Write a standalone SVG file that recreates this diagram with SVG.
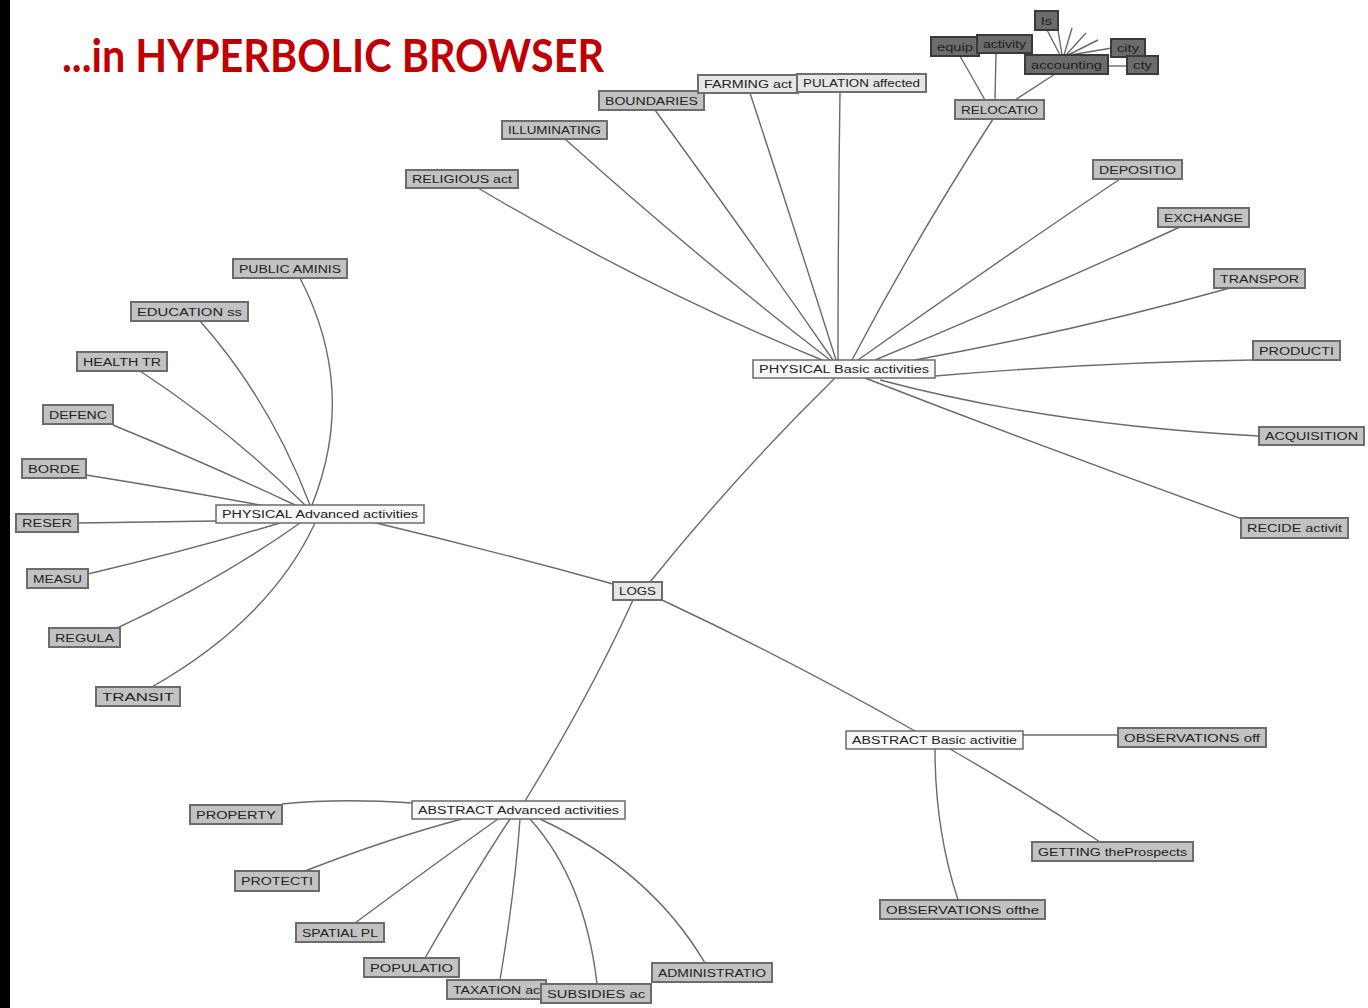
<svg xmlns="http://www.w3.org/2000/svg" width="1368" height="1008" viewBox="0 0 1368 1008">
  <style>
    .title { font-family: "Lato", "Open Sans", sans-serif; font-weight: 700; font-size: 46px; fill: #c00000; }
    .edges path { fill: none; stroke: #6a6a6a; stroke-width: 1.4; }
    .hub rect { fill: #f7f7f7; stroke: #6b6b6b; stroke-width: 1.5; }
    .leaf rect { fill: #c2c2c2; stroke: #6c6c6c; stroke-width: 2; }
    .dark rect { fill: #6c6c6c; stroke: #3a3a3a; stroke-width: 2; }
    .lite rect { fill: #e6e6e6; stroke: #6e6e6e; stroke-width: 2; }
    text.lbl { font-family: "Liberation Sans", Arial, sans-serif; font-size: 10px; fill: #222222; text-anchor: middle; }
    .dark text.lbl { fill: #1c1c1c; }
  </style>

  <rect x="0" y="0" width="1368" height="1008" fill="#ffffff"/>
  <rect x="0" y="0" width="10" height="1008" fill="#000000"/>

  <text class="title" x="62" y="72" textLength="542" lengthAdjust="spacingAndGlyphs">...in HYPERBOLIC BROWSER</text>

  <!-- connectors (hyperbolic geodesics drawn as gentle curves) -->
  <g id="connectors" class="edges">
    <!-- root -->
    <path d="M650,582 Q738,473 835,378"/>
    <path d="M613,584 Q490,550 368,521"/>
    <path d="M662,600 Q790,660 915,731"/>
    <path d="M633,600 Q590,695 525,801"/>
    <!-- PHYSICAL Basic -->
    <path d="M478,188 Q650,290 822,360"/>
    <path d="M565,139 Q700,260 830,360"/>
    <path d="M655,110 Q750,240 833,360"/>
    <path d="M750,93 Q795,230 836,360"/>
    <path d="M840,92 Q838,230 838,360"/>
    <path d="M993,119 Q915,240 852,360"/>
    <path d="M1120,179 Q985,270 858,360"/>
    <path d="M1180,227 Q1020,300 875,360"/>
    <path d="M1230,288 Q1080,330 915,360"/>
    <path d="M1253,360 Q1100,362 935,376"/>
    <path d="M1259,436 Q1050,425 880,380"/>
    <path d="M1245,520 Q1050,450 865,378"/>
    <!-- RELOCATIO branch -->
    <path d="M985,100 L960,56"/>
    <path d="M995,100 L996,53"/>
    <path d="M1015,100 L1055,74"/>
    <path d="M1060,55 L1047,30"/>
    <path d="M1062,55 L1058,30"/>
    <path d="M1064,55 L1072,28"/>
    <path d="M1066,55 L1086,33"/>
    <path d="M1068,55 L1098,40"/>
    <path d="M1070,55 L1112,48"/>
    <path d="M1108,66 L1127,66"/>
    <!-- PHYSICAL Advanced -->
    <path d="M300,278 Q358,390 312,505"/>
    <path d="M200,321 Q270,400 310,505"/>
    <path d="M140,371 Q230,430 305,505"/>
    <path d="M113,425 Q210,465 295,505"/>
    <path d="M86,475 Q180,490 265,506"/>
    <path d="M78,523 L216,521"/>
    <path d="M88,574 Q190,550 280,523"/>
    <path d="M115,629 Q220,580 300,523"/>
    <path d="M150,688 Q270,620 315,523"/>
    <!-- ABSTRACT Basic -->
    <path d="M1023,735 L1118,735"/>
    <path d="M950,749 Q1030,795 1100,842"/>
    <path d="M935,749 Q935,830 958,900"/>
    <!-- ABSTRACT Advanced -->
    <path d="M282,804 Q340,798 412,803"/>
    <path d="M305,871 Q390,838 462,819"/>
    <path d="M355,923 Q440,860 498,819"/>
    <path d="M425,958 Q470,880 510,819"/>
    <path d="M500,980 Q515,890 520,819"/>
    <path d="M597,984 Q585,880 530,819"/>
    <path d="M705,963 Q650,870 540,819"/>
  </g>

  <!-- hubs -->
  <g id="logs" class="lite"><rect x="613" y="582" width="49" height="18"/><text class="lbl" x="637.5" y="595" textLength="37" lengthAdjust="spacingAndGlyphs">LOGS</text></g>
  <g id="physical-basic" class="hub"><rect x="753" y="360" width="182" height="18"/><text class="lbl" x="844" y="373" textLength="170" lengthAdjust="spacingAndGlyphs">PHYSICAL Basic activities</text></g>
  <g id="physical-advanced" class="hub"><rect x="216" y="505" width="208" height="18"/><text class="lbl" x="320" y="518" textLength="196" lengthAdjust="spacingAndGlyphs">PHYSICAL Advanced activities</text></g>
  <g id="abstract-basic" class="hub"><rect x="846" y="731" width="177" height="18"/><text class="lbl" x="934.5" y="744" textLength="165" lengthAdjust="spacingAndGlyphs">ABSTRACT Basic activitie</text></g>
  <g id="abstract-advanced" class="hub"><rect x="412" y="801" width="213" height="18"/><text class="lbl" x="518.5" y="814" textLength="201" lengthAdjust="spacingAndGlyphs">ABSTRACT Advanced activities</text></g>

  <!-- PHYSICAL Basic leaves -->
  <g id="religious" class="leaf"><rect x="406" y="170" width="112" height="18"/><text class="lbl" x="462" y="183" textLength="100" lengthAdjust="spacingAndGlyphs">RELIGIOUS act</text></g>
  <g id="illuminating" class="leaf"><rect x="502" y="121" width="105" height="18"/><text class="lbl" x="554.5" y="134" textLength="93" lengthAdjust="spacingAndGlyphs">ILLUMINATING</text></g>
  <g id="boundaries" class="leaf"><rect x="599" y="91" width="105" height="19"/><text class="lbl" x="651.5" y="104.5" textLength="93" lengthAdjust="spacingAndGlyphs">BOUNDARIES</text></g>
  <g id="farming" class="lite"><rect x="698" y="75" width="100" height="18"/><text class="lbl" x="748" y="88" textLength="88" lengthAdjust="spacingAndGlyphs">FARMING act</text></g>
  <g id="population-affected" class="lite"><rect x="797" y="74" width="129" height="18"/><text class="lbl" x="861.5" y="87" textLength="117" lengthAdjust="spacingAndGlyphs">PULATION affected</text></g>
  <g id="relocatio" class="leaf"><rect x="955" y="100" width="89" height="19"/><text class="lbl" x="999.5" y="113.5" textLength="77" lengthAdjust="spacingAndGlyphs">RELOCATIO</text></g>
  <g id="depositio" class="leaf"><rect x="1093" y="160" width="89" height="19"/><text class="lbl" x="1137.5" y="173.5" textLength="77" lengthAdjust="spacingAndGlyphs">DEPOSITIO</text></g>
  <g id="exchange" class="leaf"><rect x="1158" y="208" width="91" height="19"/><text class="lbl" x="1203.5" y="221.5" textLength="79" lengthAdjust="spacingAndGlyphs">EXCHANGE</text></g>
  <g id="transpor" class="leaf"><rect x="1214" y="269" width="91" height="19"/><text class="lbl" x="1259.5" y="282.5" textLength="79" lengthAdjust="spacingAndGlyphs">TRANSPOR</text></g>
  <g id="producti" class="leaf"><rect x="1253" y="341" width="87" height="19"/><text class="lbl" x="1296.5" y="354.5" textLength="75" lengthAdjust="spacingAndGlyphs">PRODUCTI</text></g>
  <g id="acquisition" class="leaf"><rect x="1259" y="427" width="105" height="18"/><text class="lbl" x="1311.5" y="440" textLength="93" lengthAdjust="spacingAndGlyphs">ACQUISITION</text></g>
  <g id="recide" class="leaf"><rect x="1241" y="518" width="107" height="20"/><text class="lbl" x="1294.5" y="532" textLength="95" lengthAdjust="spacingAndGlyphs">RECIDE activit</text></g>

  <!-- RELOCATIO sub-branch -->
  <g id="equip" class="dark"><rect x="931" y="37" width="48" height="19"/><text class="lbl" x="955" y="50.5" textLength="36" lengthAdjust="spacingAndGlyphs">equip</text></g>
  <g id="activity" class="dark"><rect x="977" y="35" width="55" height="18"/><text class="lbl" x="1004.5" y="48" textLength="43" lengthAdjust="spacingAndGlyphs">activity</text></g>
  <g id="ls" class="dark"><rect x="1035" y="11" width="23" height="19"/><text class="lbl" x="1046.5" y="24.5" textLength="11" lengthAdjust="spacingAndGlyphs">ls</text></g>
  <g id="accounting" class="dark"><rect x="1025" y="55" width="83" height="19"/><text class="lbl" x="1066.5" y="68.5" textLength="71" lengthAdjust="spacingAndGlyphs">accounting</text></g>
  <g id="city" class="dark"><rect x="1111" y="39" width="34" height="18"/><text class="lbl" x="1128" y="52" textLength="22" lengthAdjust="spacingAndGlyphs">city</text></g>
  <g id="cty" class="dark"><rect x="1127" y="56" width="31" height="18"/><text class="lbl" x="1142.5" y="69" textLength="19" lengthAdjust="spacingAndGlyphs">cty</text></g>

  <!-- PHYSICAL Advanced leaves -->
  <g id="public-aminis" class="leaf"><rect x="233" y="259" width="114" height="19"/><text class="lbl" x="290" y="272.5" textLength="102" lengthAdjust="spacingAndGlyphs">PUBLIC AMINIS</text></g>
  <g id="education" class="leaf"><rect x="131" y="302" width="117" height="19"/><text class="lbl" x="189.5" y="315.5" textLength="105" lengthAdjust="spacingAndGlyphs">EDUCATION ss</text></g>
  <g id="health" class="leaf"><rect x="77" y="352" width="90" height="19"/><text class="lbl" x="122" y="365.5" textLength="78" lengthAdjust="spacingAndGlyphs">HEALTH TR</text></g>
  <g id="defenc" class="leaf"><rect x="43" y="405" width="70" height="19"/><text class="lbl" x="78" y="418.5" textLength="58" lengthAdjust="spacingAndGlyphs">DEFENC</text></g>
  <g id="borde" class="leaf"><rect x="22" y="459" width="64" height="19"/><text class="lbl" x="54" y="472.5" textLength="52" lengthAdjust="spacingAndGlyphs">BORDE</text></g>
  <g id="reser" class="leaf"><rect x="16" y="514" width="62" height="18"/><text class="lbl" x="47" y="527" textLength="50" lengthAdjust="spacingAndGlyphs">RESER</text></g>
  <g id="measu" class="leaf"><rect x="27" y="569" width="61" height="19"/><text class="lbl" x="57.5" y="582.5" textLength="49" lengthAdjust="spacingAndGlyphs">MEASU</text></g>
  <g id="regula" class="leaf"><rect x="49" y="628" width="71" height="19"/><text class="lbl" x="84.5" y="641.5" textLength="59" lengthAdjust="spacingAndGlyphs">REGULA</text></g>
  <g id="transit" class="leaf"><rect x="96" y="687" width="84" height="19"/><text class="lbl" x="138" y="700.5" textLength="72" lengthAdjust="spacingAndGlyphs">TRANSIT</text></g>

  <!-- ABSTRACT Basic leaves -->
  <g id="observations-off" class="leaf"><rect x="1118" y="728" width="148" height="19"/><text class="lbl" x="1192" y="741.5" textLength="136" lengthAdjust="spacingAndGlyphs">OBSERVATIONS off</text></g>
  <g id="getting" class="leaf"><rect x="1032" y="842" width="161" height="19"/><text class="lbl" x="1112.5" y="855.5" textLength="149" lengthAdjust="spacingAndGlyphs">GETTING theProspects</text></g>
  <g id="observations-ofthe" class="leaf"><rect x="880" y="900" width="165" height="19"/><text class="lbl" x="962.5" y="913.5" textLength="153" lengthAdjust="spacingAndGlyphs">OBSERVATIONS ofthe</text></g>

  <!-- ABSTRACT Advanced leaves -->
  <g id="property" class="leaf"><rect x="190" y="805" width="92" height="19"/><text class="lbl" x="236" y="818.5" textLength="80" lengthAdjust="spacingAndGlyphs">PROPERTY</text></g>
  <g id="protecti" class="leaf"><rect x="235" y="871" width="84" height="20"/><text class="lbl" x="277" y="885" textLength="72" lengthAdjust="spacingAndGlyphs">PROTECTI</text></g>
  <g id="spatial" class="leaf"><rect x="296" y="923" width="88" height="19"/><text class="lbl" x="340" y="936.5" textLength="76" lengthAdjust="spacingAndGlyphs">SPATIAL PL</text></g>
  <g id="populatio" class="leaf"><rect x="364" y="958" width="95" height="19"/><text class="lbl" x="411.5" y="971.5" textLength="83" lengthAdjust="spacingAndGlyphs">POPULATIO</text></g>
  <g id="taxation" class="leaf"><rect x="447" y="980" width="99" height="19"/><text class="lbl" x="496.5" y="993.5" textLength="87" lengthAdjust="spacingAndGlyphs">TAXATION ac</text></g>
  <g id="subsidies" class="leaf"><rect x="541" y="984" width="110" height="19"/><text class="lbl" x="596" y="997.5" textLength="98" lengthAdjust="spacingAndGlyphs">SUBSIDIES ac</text></g>
  <g id="administratio" class="leaf"><rect x="652" y="963" width="120" height="19"/><text class="lbl" x="712" y="976.5" textLength="108" lengthAdjust="spacingAndGlyphs">ADMINISTRATIO</text></g>
</svg>
